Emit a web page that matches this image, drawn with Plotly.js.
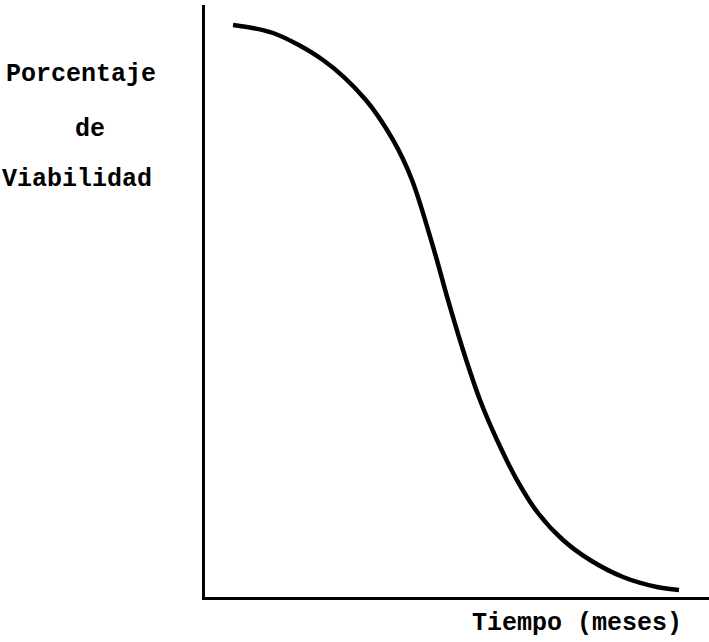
<!DOCTYPE html>
<html>
<head>
<meta charset="utf-8">
<script src="https://cdn.plot.ly/plotly-3.0.1.min.js"></script>
<style>
  html, body { margin: 0; padding: 0; background: #ffffff; }
  #chart { width: 709px; height: 642px; }
</style>
</head>
<body>
<div id="chart"></div>
<script>
// Time (arbitrary units, months) and viability percentage
const tiempo = [5.56, 13.49, 23.41, 31.75, 37.30, 41.07, 45.44, 48.21, 51.19, 54.56, 57.94, 61.90, 66.07, 71.03, 76.39, 82.94, 89.68, 94.05];
const viabilidad = [96.62, 95.27, 90.71, 84.12, 77.20, 70.44, 58.61, 50.17, 41.72, 33.28, 26.52, 19.76, 14.19, 9.63, 6.25, 3.38, 1.69, 1.18];

const yLabelLines = ["Porcentaje", "de", "Viabilidad"];
const xLabel = "Tiempo (meses)";

const font = { family: "Liberation Mono, Courier New, monospace", size: 25, color: "#000000" };

const trace = {
  x: tiempo,
  y: viabilidad,
  type: "scatter",
  mode: "lines",
  line: { color: "#000000", width: 4.5, shape: "spline", smoothing: 0.9 },
  hoverinfo: "skip"
};

const yPos = [0.8834, 0.789, 0.7044];
const xPos = [-0.246, -0.228, -0.254];

const annotations = yLabelLines.map((t, i) => ({
  text: "<b>" + t + "</b>",
  xref: "paper", yref: "paper",
  x: xPos[i], y: yPos[i],
  xanchor: "center", yanchor: "middle",
  showarrow: false,
  font: font
}));
annotations.push({
  text: "<b>" + xLabel + "</b>",
  xref: "paper", yref: "paper",
  x: 0.738, y: -0.0456,
  xanchor: "center", yanchor: "middle",
  showarrow: false,
  font: font
});

const layout = {
  width: 709,
  height: 642,
  margin: { l: 205, r: 0, t: 5, b: 45 },
  paper_bgcolor: "#ffffff",
  plot_bgcolor: "#ffffff",
  showlegend: false,
  xaxis: {
    range: [0, 100],
    showline: true, linecolor: "#000000", linewidth: 3,
    showgrid: false, zeroline: false, ticks: "", showticklabels: false
  },
  yaxis: {
    range: [0, 100],
    showline: true, linecolor: "#000000", linewidth: 3,
    showgrid: false, zeroline: false, ticks: "", showticklabels: false
  },
  annotations: annotations
};

Plotly.newPlot("chart", [trace], layout, { staticPlot: true, displayModeBar: false });
</script>
</body>
</html>
